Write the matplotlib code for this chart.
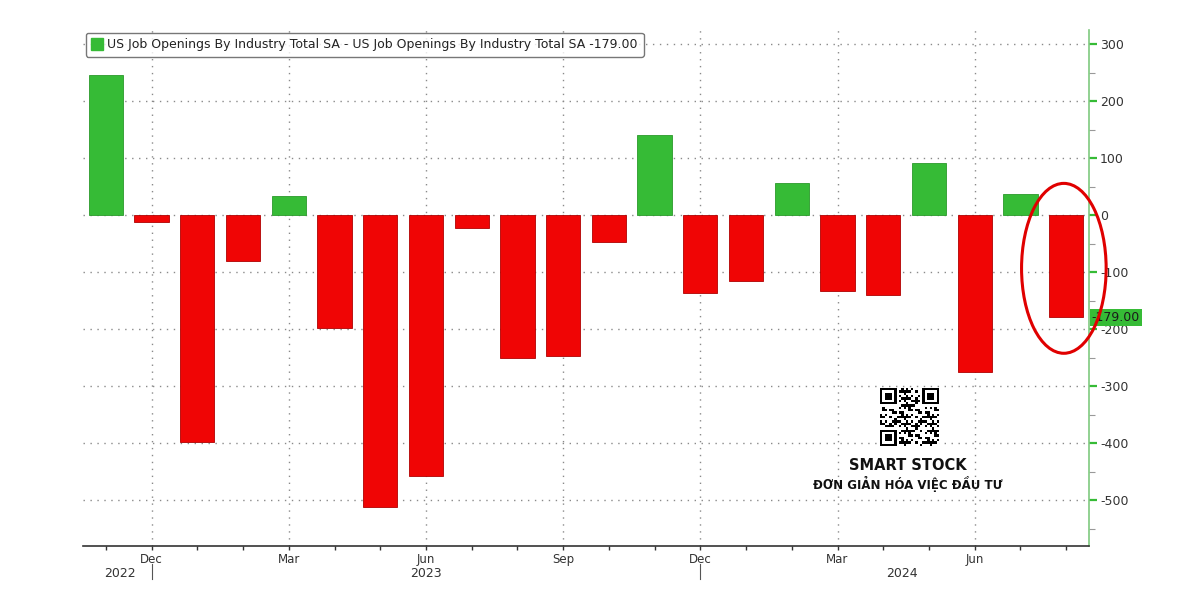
import numpy as np
import matplotlib
matplotlib.use("Agg")
import matplotlib.pyplot as plt
from matplotlib.patches import Ellipse
from matplotlib.lines import Line2D
import matplotlib.transforms as mtransforms

months = ["Nov 2022", "Dec 2022", "Jan 2023", "Feb 2023", "Mar 2023", "Apr 2023",
          "May 2023", "Jun 2023", "Jul 2023", "Aug 2023", "Sep 2023", "Oct 2023",
          "Nov 2023", "Dec 2023", "Jan 2024", "Feb 2024", "Mar 2024", "Apr 2024",
          "May 2024", "Jun 2024", "Jul 2024", "Aug 2024"]
values = [246, -12, -398, -81, 33, -198, -512, -457, -22, -251, -246, -47,
          141, -136, -115, 57, -133, -140, 91, -274, 38, -179]
tick_months = ["Dec", "Mar", "Jun", "Sep"]
year_labels = ["2022", "2023", "2024"]
y_ticks = [300, 200, 100, 0, -100, -200, -300, -400, -500]
legend_label = "US Job Openings By Industry Total SA - US Job Openings By Industry Total SA -179.00"
last_label = "-179.00"

GREEN = "#36bb36"
RED = "#f00505"

fig = plt.figure(figsize=(12, 5.93), dpi=100)
ax = fig.add_axes([83/1200, 1-546/593, (1089-83)/1200, (546-30)/593])

x = np.arange(len(months))
colors = [GREEN if v >= 0 else RED for v in values]
edges = ["#2a9a2a" if v >= 0 else "#b00000" for v in values]
ax.bar(x, values, width=0.75, color=colors, edgecolor=edges, linewidth=0.6, zorder=3)

ax.set_xlim(-0.5, len(months) - 0.5)
ax.set_ylim(-580, 325)

# x ticks
ax.set_xticks(x, minor=True)
short = [m.split()[0] for m in months]
major_idx = [i for i, m in enumerate(short) if m in tick_months]
ax.set_xticks(major_idx)
ax.set_xticklabels([short[i] for i in major_idx])
ax.tick_params(axis="x", which="both", length=3, width=1, color="#333333",
               labelsize=8.5, labelcolor="#333333", pad=2)

# y axis on right
ax.yaxis.tick_right()
ax.set_yticks(y_ticks)
ax.set_yticklabels([str(t) for t in y_ticks])
ax.set_yticks(np.arange(-550, 325, 50), minor=True)
ax.tick_params(axis="y", which="major", length=6, width=1.6, color=GREEN,
               labelsize=9, labelcolor="#333333", pad=2)
ax.tick_params(axis="y", which="minor", length=4, width=0.8, color="#999999")

for s in ["top", "left"]:
    ax.spines[s].set_visible(False)
ax.spines["right"].set_color("#7fc97f")
ax.spines["right"].set_linewidth(1.2)
ax.spines["bottom"].set_color("#333333")
ax.spines["bottom"].set_linewidth(1.2)

# grid
for t in y_ticks:
    ax.axhline(t, color="#8a8a8a", linestyle=(0, (1, 4)), linewidth=1.0, zorder=1)
for i in major_idx:
    ax.axvline(i, color="#8a8a8a", linestyle=(0, (1, 4)), linewidth=1.0, zorder=1)

# year labels and separators
trans = mtransforms.blended_transform_factory(ax.transData, ax.transAxes)
year_pos = [0.3, 7.0, 17.4]
for yl, xp in zip(year_labels, year_pos):
    ax.text(xp, -0.053, yl, transform=trans, ha="center", va="center",
            fontsize=9, color="#333333")
sep_idx = [i for i, m in enumerate(months) if m.startswith("Dec")]
for i in sep_idx:
    ax.plot([i, i], [-0.035, -0.064], transform=trans, color="#555555",
            linewidth=0.8, clip_on=False)

# last value label
ax.annotate(last_label, xy=(1, values[-1]),
            xycoords=mtransforms.blended_transform_factory(ax.transAxes, ax.transData),
            xytext=(2, 0), textcoords="offset points", ha="left", va="center",
            fontsize=9, color="#1a1a1a",
            bbox=dict(boxstyle="square,pad=0.15", facecolor=GREEN, edgecolor="none"))

# legend
handle = Line2D([], [], marker="s", linestyle="none", markersize=9,
                markerfacecolor=GREEN, markeredgecolor=GREEN)
leg = ax.legend([handle], [legend_label], loc="upper left", bbox_to_anchor=(0.0, 1.0),
                fontsize=9, frameon=True, fancybox=True, handletextpad=0.3,
                borderaxespad=0.2, handlelength=1.0, borderpad=0.45)
leg.get_frame().set_edgecolor("#555555")
leg.get_frame().set_linewidth(1.0)
for t in leg.get_texts():
    t.set_color("#222222")

# highlight ellipse
ell = Ellipse((len(months) - 1.05, -93), width=1.85, height=298, fill=False,
              edgecolor="#e00000", linewidth=2.2, clip_on=False, zorder=5)
ax.add_patch(ell)

# watermark QR-like block
qr_ax = fig.add_axes([880/1200, 1-446/593, 58/1200, 58/593])
n = 25
grid = np.zeros((n, n))
for i in range(n):
    for j in range(n):
        grid[i, j] = 1 if ((i * i * 31 + j * j * 17 + i * j * 7 + i * 3) % 11) < 5 else 0
def finder(r, c):
    grid[max(r-1, 0):r+8, max(c-1, 0):c+8] = 0
    grid[r:r+7, c:c+7] = 1
    grid[r+1:r+6, c+1:c+6] = 0
    grid[r+2:r+5, c+2:c+5] = 1
finder(0, 0); finder(0, n-7); finder(n-7, 0)
qr_ax.imshow(1 - grid, cmap="gray", interpolation="nearest", vmin=0, vmax=1)
qr_ax.set_xticks([]); qr_ax.set_yticks([])
for s in qr_ax.spines.values():
    s.set_visible(False)

fig.text(908/1200, 1-466/593, "SMART STOCK", ha="center", va="center",
         fontsize=10.5, fontweight="bold", color="#111111")
fig.text(908/1200, 1-484/593, "ĐƠN GIẢN HÓA VIỆC ĐẦU TƯ", ha="center", va="center",
         fontsize=8.5, fontweight="bold", color="#111111")

fig.savefig("out.png", dpi=100)
